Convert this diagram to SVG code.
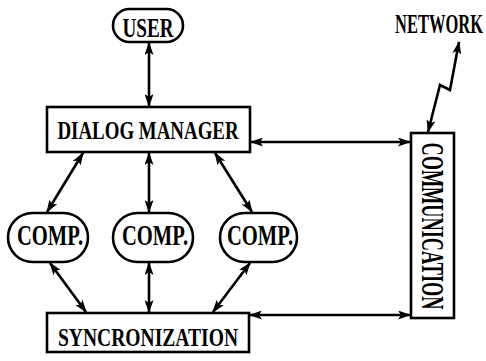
<svg xmlns="http://www.w3.org/2000/svg" width="486" height="361" viewBox="0 0 486 361">
  <style>
    .box { fill: #fff; stroke: #000; stroke-width: 2.6; }
    .lbl { font-family: "Liberation Serif", "DejaVu Serif", serif; font-weight: bold; fill: #000; text-anchor: middle; }
    .link { fill: none; stroke: #000; stroke-width: 2.6; marker-start: url(#ah); marker-end: url(#ah); }
  </style>
  <defs>
    <marker id="ah" viewBox="0 0 13 9" refX="12" refY="4.5" markerWidth="13" markerHeight="9" markerUnits="userSpaceOnUse" orient="auto-start-reverse">
      <path d="M0,0 L13,4.5 L0,9 L3,4.5 z" fill="#000"/>
    </marker>
  </defs>
  <rect width="486" height="361" fill="#fff"/>

  <!-- connectors -->
  <g id="connectors">
    <line class="link" x1="149" y1="43" x2="149" y2="106"/>
    <line class="link" x1="251" y1="142" x2="410" y2="142"/>
    <line class="link" x1="250" y1="315" x2="410" y2="315"/>
    <line class="link" x1="83" y1="153" x2="47" y2="212"/>
    <line class="link" x1="149" y1="153" x2="149" y2="212"/>
    <line class="link" x1="215" y1="153" x2="252" y2="212"/>
    <line class="link" x1="50" y1="263" x2="86" y2="312"/>
    <line class="link" x1="149" y1="263" x2="149" y2="312"/>
    <line class="link" x1="250" y1="263" x2="213" y2="312"/>
    <polyline class="link" points="459,42 450,90 440,85 428,132"/>
  </g>

  <!-- labels use condensed glyphs: horizontal scale plus a matching textLength -->
  <g id="user">
    <rect class="box" x="113" y="9" width="70" height="33" rx="16.5"/>
    <text class="lbl" transform="translate(148,37) scale(0.708,1)" font-size="27" textLength="72" lengthAdjust="spacingAndGlyphs">USER</text>
  </g>

  <g id="dialog-manager">
    <rect class="box" x="47" y="107" width="203" height="45"/>
    <text class="lbl" transform="translate(148,139) scale(0.755,1)" font-size="25" textLength="240" lengthAdjust="spacingAndGlyphs">DIALOG MANAGER</text>
  </g>

  <g id="comp1">
    <rect class="box" x="8" y="213" width="80" height="49" rx="24.5"/>
    <text class="lbl" transform="translate(50,245) scale(0.689,1)" font-size="29" textLength="96" lengthAdjust="spacingAndGlyphs">COMP.</text>
  </g>
  <g id="comp2">
    <rect class="box" x="113" y="213" width="80" height="49" rx="24.5"/>
    <text class="lbl" transform="translate(155,245) scale(0.689,1)" font-size="29" textLength="96" lengthAdjust="spacingAndGlyphs">COMP.</text>
  </g>
  <g id="comp3">
    <rect class="box" x="220" y="213" width="77" height="49" rx="24.5"/>
    <text class="lbl" transform="translate(260,245) scale(0.689,1)" font-size="29" textLength="96" lengthAdjust="spacingAndGlyphs">COMP.</text>
  </g>

  <g id="syncronization">
    <rect class="box" x="47" y="313" width="202" height="39"/>
    <text class="lbl" transform="translate(148,346) scale(0.747,1)" font-size="26" textLength="241" lengthAdjust="spacingAndGlyphs">SYNCRONIZATION</text>
  </g>

  <g id="communication">
    <rect class="box" x="411" y="133" width="43" height="185"/>
    <text class="lbl" transform="translate(422,226) rotate(90) scale(0.566,1)" font-size="32" textLength="295" lengthAdjust="spacingAndGlyphs">COMMUNICATION</text>
  </g>

  <g id="network">
    <text class="lbl" transform="translate(439,33) scale(0.611,1)" font-size="27" textLength="144" lengthAdjust="spacingAndGlyphs">NETWORK</text>
  </g>
</svg>
